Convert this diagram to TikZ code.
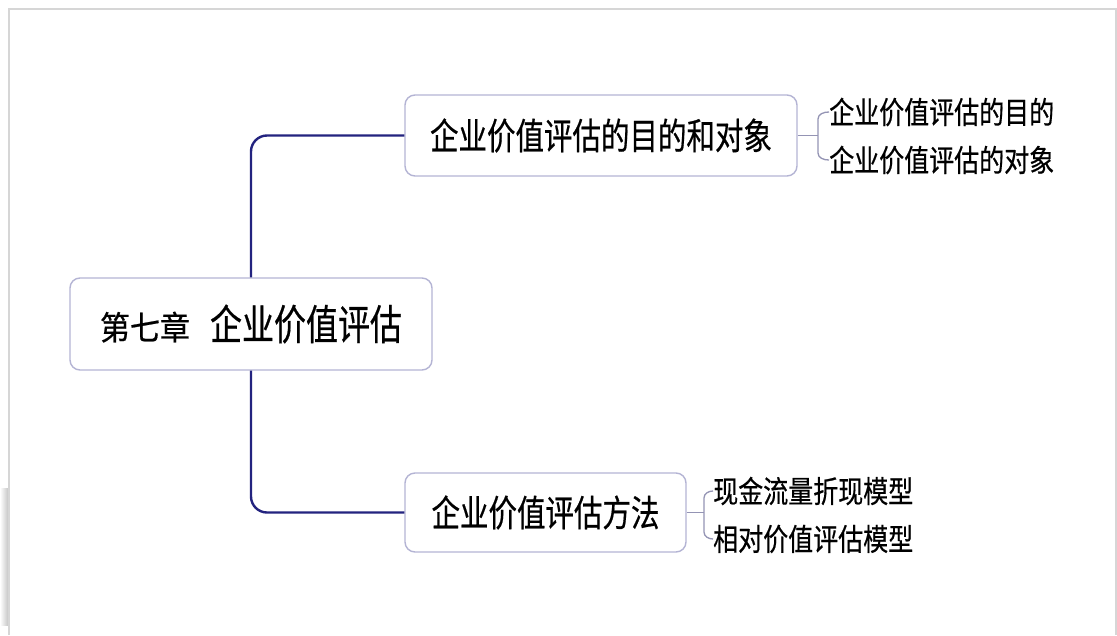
\documentclass[tikz,border=0pt]{standalone}
\usepackage{fontspec}
\newfontfamily\cjk[FakeBold=0.6]{Noto Sans CJK SC}
\usetikzlibrary{positioning}
\definecolor{navy}{HTML}{23237F}
\definecolor{boxline}{HTML}{B4B4D4}
\definecolor{bracecol}{HTML}{9494B4}
\definecolor{framecol}{HTML}{D6D6D6}
\begin{document}
\begin{tikzpicture}[x=1pt,y=-1pt,
  mapbox/.style={draw=boxline, line width=1.4pt, rounded corners=10pt, fill=white, inner sep=0pt},
  link/.style={draw=navy, line width=2.4pt, rounded corners=16pt},
  bracelink/.style={draw=bracecol, line width=1.3pt},
  leaf/.style={anchor=west, inner sep=0pt, font=\cjk\fontsize{25}{25}\selectfont}
]
\useasboundingbox (0,0) rectangle (1117,635);
\fill[white] (0,0) rectangle (1117,635);
% slide frame
\shade[left color=white, right color=black!22] (0,488) rectangle (8,625);
\draw[framecol, line width=1.5pt] (9,635) -- (9,9) -- (1116,9) -- (1116,635);

% nodes
\node[mapbox, minimum width=362pt, minimum height=92pt] (root) at (251,324)
  {\cjk\scalebox{1}[1.1]{\fontsize{30}{30}\selectfont 第七章}\hspace{20pt}\scalebox{1}[1.3]{\fontsize{32}{32}\selectfont 企业价值评估}};
\node[mapbox, minimum width=392pt, minimum height=81pt] (top) at (601,135.5)
  {\cjk\scalebox{1}[1.28]{\fontsize{28.5}{28.5}\selectfont 企业价值评估的目的和对象}};
\node[mapbox, minimum width=281pt, minimum height=79pt] (bot) at (545.5,512.5)
  {\cjk\scalebox{1}[1.28]{\fontsize{28.5}{28.5}\selectfont 企业价值评估方法}};

% connectors from root
\draw[link] (root.north) |- (top.west);
\draw[link] (root.south) |- (bot.west);

% top leaves
\node[leaf] (t1) at (829,112) {\scalebox{1}[1.22]{企业价值评估的目的}};
\node[leaf] (t2) at (829,160) {\scalebox{1}[1.22]{企业价值评估的对象}};
\coordinate (tj) at (818,135.5);
\draw[bracelink] (top.east) -- (tj);
\draw[bracelink] (t1.west) to[out=180,in=90] (tj |- 0,119) -- (tj |- 0,153) to[out=-90,in=180] (t2.west);

% bottom leaves
\node[leaf] (b1) at (713,491) {\scalebox{1}[1.22]{现金流量折现模型}};
\node[leaf] (b2) at (713,539) {\scalebox{1}[1.22]{相对价值评估模型}};
\coordinate (bj) at (704,512.5);
\draw[bracelink] (bot.east) -- (bj);
\draw[bracelink] (b1.west) to[out=180,in=90] (bj |- 0,498) -- (bj |- 0,532) to[out=-90,in=180] (b2.west);
\end{tikzpicture}
\end{document}
